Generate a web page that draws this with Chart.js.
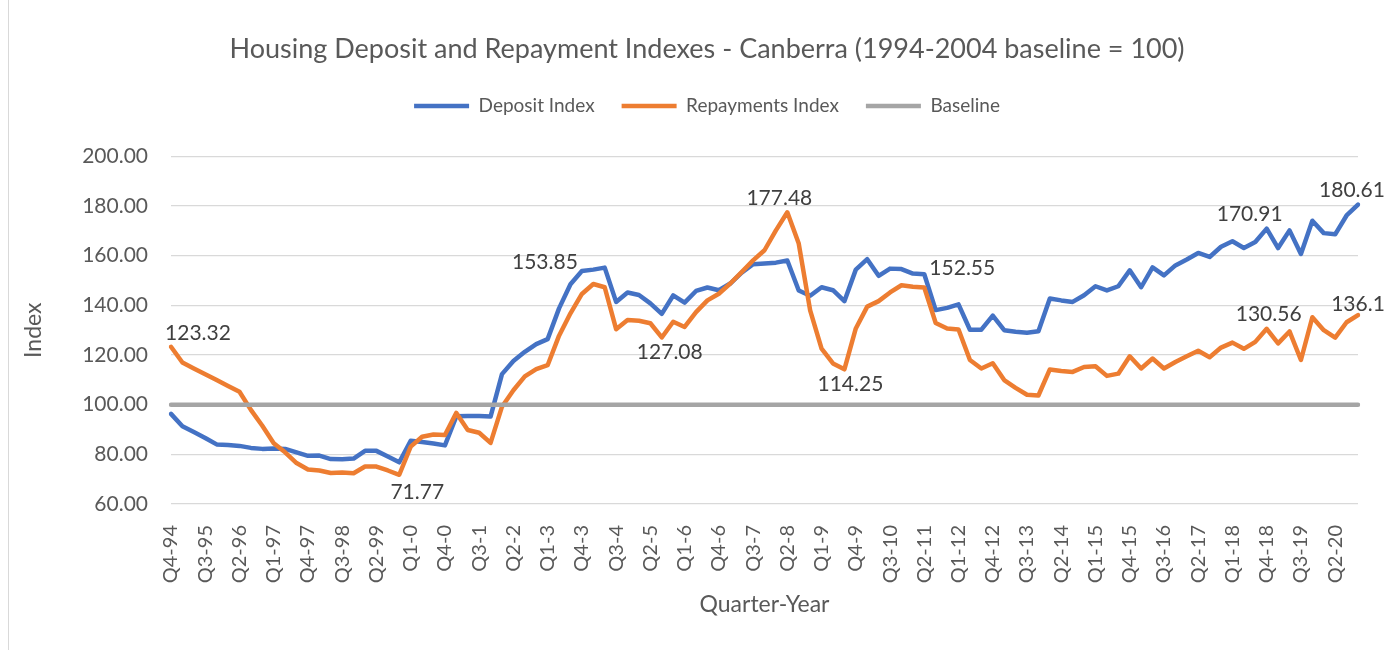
<!DOCTYPE html>
<html>
<head>
<meta charset="utf-8">
<title>Housing Deposit and Repayment Indexes - Canberra</title>
<script src="https://cdn.jsdelivr.net/npm/chart.js@4.4.8/dist/chart.umd.min.js"></script>
<style>
  body { margin: 0; background: #fff; }
  #wrap { position: relative; width: 1395px; height: 650px; }
  #chart { position: absolute; left: 0; top: 0; }
  #edge { position: absolute; left: 8px; top: 0; width: 1px; height: 650px; background: #d9d9d9; }
</style>
</head>
<body>
<div id="wrap">
  <canvas id="chart" width="1395" height="650"></canvas>
  <div id="edge"></div>
</div>
<script>
/*  Data  */

const quarters = [
    'Q4-94',
    'Q1-95', 'Q2-95', 'Q3-95', 'Q4-95',
    'Q1-96', 'Q2-96', 'Q3-96', 'Q4-96',
    'Q1-97', 'Q2-97', 'Q3-97', 'Q4-97',
    'Q1-98', 'Q2-98', 'Q3-98', 'Q4-98',
    'Q1-99', 'Q2-99', 'Q3-99', 'Q4-99',
    'Q1-0', 'Q2-0', 'Q3-0', 'Q4-0',
    'Q1-1', 'Q2-1', 'Q3-1', 'Q4-1',
    'Q1-2', 'Q2-2', 'Q3-2', 'Q4-2',
    'Q1-3', 'Q2-3', 'Q3-3', 'Q4-3',
    'Q1-4', 'Q2-4', 'Q3-4', 'Q4-4',
    'Q1-5', 'Q2-5', 'Q3-5', 'Q4-5',
    'Q1-6', 'Q2-6', 'Q3-6', 'Q4-6',
    'Q1-7', 'Q2-7', 'Q3-7', 'Q4-7',
    'Q1-8', 'Q2-8', 'Q3-8', 'Q4-8',
    'Q1-9', 'Q2-9', 'Q3-9', 'Q4-9',
    'Q1-10', 'Q2-10', 'Q3-10', 'Q4-10',
    'Q1-11', 'Q2-11', 'Q3-11', 'Q4-11',
    'Q1-12', 'Q2-12', 'Q3-12', 'Q4-12',
    'Q1-13', 'Q2-13', 'Q3-13', 'Q4-13',
    'Q1-14', 'Q2-14', 'Q3-14', 'Q4-14',
    'Q1-15', 'Q2-15', 'Q3-15', 'Q4-15',
    'Q1-16', 'Q2-16', 'Q3-16', 'Q4-16',
    'Q1-17', 'Q2-17', 'Q3-17', 'Q4-17',
    'Q1-18', 'Q2-18', 'Q3-18', 'Q4-18',
    'Q1-19', 'Q2-19', 'Q3-19', 'Q4-19',
    'Q1-20', 'Q2-20', 'Q3-20', 'Q4-20'
];

const depositIndex = [
    96.3,
    91.3, 89.0, 86.6, 84.0,
    83.8, 83.4, 82.6, 82.2,
    82.4, 82.2, 80.8, 79.4,
    79.5, 78.1, 78.0, 78.3,
    81.4, 81.4, 79.1, 76.8,
    85.5, 85.0, 84.4, 83.6,
    95.3, 95.4, 95.4, 95.2,
    112.3, 117.6, 121.3, 124.4,
    126.4, 138.8, 148.5, 153.85,
    154.4, 155.2, 141.4, 145.2,
    144.2, 140.8, 136.6, 144.0,
    141.1, 145.8, 147.2, 146.1,
    148.8, 153.2, 156.6, 156.9,
    157.2, 158.1, 146.0, 143.9,
    147.3, 146.1, 141.7, 154.4,
    158.6, 151.9, 154.8, 154.6,
    152.8, 152.55, 138.1, 139.0,
    140.4, 130.2, 130.2, 135.9,
    130.0, 129.4, 129.0, 129.6,
    142.8, 142.0, 141.4, 144.1,
    147.7, 146.0, 147.7, 154.1,
    147.3, 155.3, 152.1, 156.1,
    158.5, 161.1, 159.5, 163.6,
    165.8, 163.1, 165.5, 170.91,
    163.1, 170.2, 160.7, 174.1,
    169.1, 168.6, 176.2, 180.61
];

const repaymentsIndex = [
    123.32,
    117.0, 114.6, 112.3, 109.9,
    107.5, 105.2, 97.9, 91.5,
    84.5, 80.8, 76.5, 73.9,
    73.5, 72.5, 72.7, 72.4,
    75.1, 75.1, 73.5, 71.77,
    83.1, 87.1, 88.0, 87.8,
    96.7, 89.8, 88.7, 84.6,
    99.2, 105.8, 111.4, 114.3,
    115.9, 127.8, 136.8, 144.6,
    148.6, 147.3, 130.4, 134.1,
    133.8, 132.8, 127.08, 133.4,
    131.3, 137.3, 142.0, 144.7,
    148.8, 153.4, 158.1, 162.2,
    170.2, 177.48, 164.9, 138.0,
    122.6, 116.6, 114.25, 130.7,
    139.5, 141.7, 145.2, 148.1,
    147.5, 147.2, 132.9, 130.7,
    130.3, 118.0, 114.6, 116.7,
    109.9, 106.8, 104.0, 103.7,
    114.2, 113.6, 113.2, 115.2,
    115.5, 111.6, 112.5, 119.5,
    114.6, 118.6, 114.6, 117.2,
    119.5, 121.7, 119.1, 123.0,
    125.0, 122.5, 125.3, 130.56,
    124.7, 129.5, 118.0, 135.2,
    130.0, 127.0, 133.2, 136.1
];

const baselineValue = 100;

const yTicks = [60, 80, 100, 120, 140, 160, 180, 200];


/*  Styling  */

const FONT = 'Lato, "Open Sans", sans-serif';
const TEXT = '#595959';
const LINE_W = 4.5;
const PAD_LEFT = 41;   // keeps title and legend centred like the original
const PLOT_LEFT = 171;

// which points carry a value label, and where the text sits relative to the point
const labelSpots = [
    { ds: 0, i: 36, dx: -37, dy: -9 },
    { ds: 0, i: 66, dx: 38, dy: -6 },
    { ds: 0, i: 96, dx: -17, dy: -14 },
    { ds: 0, i: 104, dx: -6, dy: -14 },
    { ds: 1, i: 0, dx: 27, dy: -14 },
    { ds: 1, i: 20, dx: 18, dy: 17 },
    { ds: 1, i: 43, dx: 8, dy: 15 },
    { ds: 1, i: 54, dx: -8, dy: -14 },
    { ds: 1, i: 59, dx: 6, dy: 15 },
    { ds: 1, i: 96, dx: 2, dy: -15 },
    { ds: 1, i: 104, dx: 0, dy: -11 }
];


/*  Plugins  */

const valueLabels = {
    id: 'valueLabels',
    afterDatasetsDraw(chart) {
        const ctx = chart.ctx;
        ctx.save();
        ctx.font = '21px ' + FONT;
        ctx.fillStyle = '#404040';
        ctx.textAlign = 'center';
        ctx.textBaseline = 'middle';
        labelSpots.forEach(s => {
            const pt = chart.getDatasetMeta(s.ds).data[s.i];
            const v = chart.data.datasets[s.ds].data[s.i];
            ctx.fillText(String(v), pt.x + s.dx, pt.y + s.dy);
        });
        ctx.restore();
    }
};

// leave extra room between the legend and the plot
const legendGap = {
    id: 'legendGap',
    beforeUpdate(chart) {
        const lg = chart.legend;
        if (lg && !lg._gapPatched) {
            const fit = lg.fit;
            lg.fit = function () {
                fit.call(this);
                this.height += 31;
            };
            lg._gapPatched = true;
        }
    }
};


/*  Chart  */

const ctx = document.getElementById('chart').getContext('2d');

new Chart(ctx, {
    type: 'line',
    data: {
        labels: quarters,
        datasets: [{
            label: 'Deposit Index',
            data: depositIndex,
            borderColor: '#4472c4',
            backgroundColor: '#4472c4',
            borderWidth: LINE_W,
            order: 3
        }, {
            label: 'Repayments Index',
            data: repaymentsIndex,
            borderColor: '#ed7d31',
            backgroundColor: '#ed7d31',
            borderWidth: LINE_W,
            order: 2
        }, {
            label: 'Baseline',
            data: quarters.map(() => baselineValue),
            borderColor: '#a5a5a5',
            backgroundColor: '#a5a5a5',
            borderWidth: LINE_W,
            order: 1
        }]
    },
    options: {
        responsive: false,
        animation: false,
        events: [],
        elements: {
            line: { tension: 0, borderCapStyle: 'round', borderJoinStyle: 'round' },
            point: { radius: 0 }
        },
        layout: { padding: { left: PAD_LEFT, right: 22, top: 0, bottom: 0 } },
        plugins: {
            title: {
                display: true,
                text: 'Housing Deposit and Repayment Indexes - Canberra (1994-2004 baseline = 100)',
                color: TEXT,
                font: { family: FONT, size: 27, weight: 'normal' },
                padding: { top: 33, bottom: 4 }
            },
            legend: {
                position: 'top',
                labels: {
                    color: TEXT,
                    font: { family: FONT, size: 19 },
                    usePointStyle: true,
                    pointStyle: 'line',
                    pointStyleWidth: 55,
                    padding: 27,
                    sort: (a, b) => a.datasetIndex - b.datasetIndex
                }
            },
            tooltip: { enabled: false }
        },
        scales: {
            x: {
                grid: { display: false },
                border: { display: false },
                ticks: {
                    color: TEXT,
                    font: { family: FONT, size: 20 },
                    autoSkip: false,
                    minRotation: 90,
                    maxRotation: 90,
                    padding: 13,
                    callback: function (value, index) {
                        return index % 3 === 0 ? quarters[index] : '';
                    }
                },
                title: {
                    display: true,
                    text: 'Quarter-Year',
                    color: TEXT,
                    font: { family: FONT, size: 23 },
                    padding: { top: 0, bottom: 32 }
                },
                afterFit: function (scale) { scale.height = 146; }
            },
            y: {
                min: yTicks[0],
                max: yTicks[yTicks.length - 1],
                afterBuildTicks: function (scale) {
                    scale.ticks = yTicks.map(v => ({ value: v }));
                },
                grid: { color: '#d9d9d9', lineWidth: 1.3, drawTicks: false },
                border: { display: false },
                ticks: {
                    color: TEXT,
                    font: { family: FONT, size: 21 },
                    padding: 23,
                    callback: v => Number(v).toFixed(2)
                },
                title: {
                    display: true,
                    text: 'Index',
                    color: TEXT,
                    font: { family: FONT, size: 23 },
                    padding: { top: 20 - PAD_LEFT, bottom: 0 }
                },
                afterFit: function (scale) { scale.width = PLOT_LEFT - PAD_LEFT; }
            }
        }
    },
    plugins: [valueLabels, legendGap]
});
</script>
</body>
</html>
